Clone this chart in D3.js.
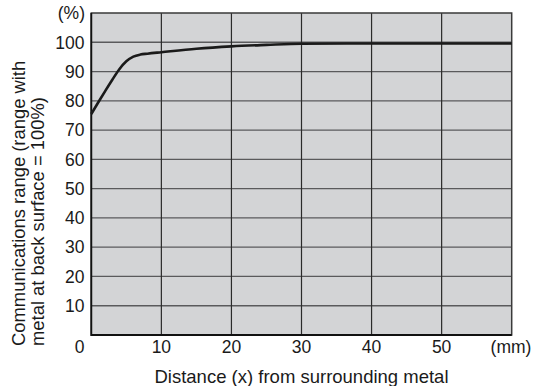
<!DOCTYPE html>
<html>
<head>
<meta charset="utf-8">
<script src="https://cdn.jsdelivr.net/npm/d3@7"></script>
<style>
  body { margin: 0; background: #fff; }
  text { font-family: "Liberation Sans", Arial, sans-serif; fill: #1a1a1a; }
</style>
</head>
<body>
<script>
// distance (mm) vs communications range (%)
var distance = [0, 1, 2, 3, 4, 5, 6, 7, 8, 10, 15, 20, 25, 30, 40, 50, 60];
var range    = [75.5, 79.5, 83.4, 87.2, 90.8, 93.5, 95.1, 95.8, 96.1, 96.6, 97.8, 98.6, 99.1, 99.5, 99.6, 99.6, 99.6];
var xTicks = [0, 10, 20, 30, 40, 50];
var yTicks = [10, 20, 30, 40, 50, 60, 70, 80, 90, 100];

var width = 535, height = 386;
var plotLeft = 91.3, plotRight = 511.7, plotTop = 13, plotBottom = 335;

var svg = d3.select("body").append("svg")
    .attr("width", width)
    .attr("height", height);

var x = d3.scaleLinear().domain([0, 60]).range([plotLeft, plotRight]);
var y = d3.scaleLinear().domain([0, 110]).range([plotBottom, plotTop]);

// plot background
svg.append("rect")
  .attr("x", plotLeft).attr("y", plotTop)
  .attr("width", plotRight - plotLeft).attr("height", plotBottom - plotTop)
  .attr("fill", "#d3d4d6");

// horizontal grid
svg.selectAll(".hgrid")
  .data(yTicks)
  .enter().append("line")
  .attr("class", "hgrid")
  .attr("x1", plotLeft).attr("x2", plotRight)
  .attr("y1", function(d) { return y(d); })
  .attr("y2", function(d) { return y(d); })
  .attr("stroke", "#5a5a5c")
  .attr("stroke-width", 1.3);

// vertical grid
svg.selectAll(".vgrid")
  .data(xTicks.slice(1))
  .enter().append("line")
  .attr("class", "vgrid")
  .attr("x1", function(d) { return x(d); })
  .attr("x2", function(d) { return x(d); })
  .attr("y1", plotTop).attr("y2", plotBottom)
  .attr("stroke", "#2a2a2a")
  .attr("stroke-width", 1.2);

// frame
svg.append("rect")
  .attr("x", plotLeft).attr("y", plotTop)
  .attr("width", plotRight - plotLeft).attr("height", plotBottom - plotTop)
  .attr("fill", "none")
  .attr("stroke", "#3a3a3a")
  .attr("stroke-width", 1.5);
svg.append("path")
  .attr("d", "M" + plotLeft + "," + plotTop + "V" + plotBottom + "H" + plotRight)
  .attr("fill", "none")
  .attr("stroke", "#111")
  .attr("stroke-width", 1.8);

// curve
var line = d3.line()
  .x(function(d) { return x(d[0]); })
  .y(function(d) { return y(d[1]); })
  .curve(d3.curveMonotoneX);

svg.append("path")
  .datum(d3.zip(distance, range))
  .attr("d", line)
  .attr("fill", "none")
  .attr("stroke", "#1a1a1a")
  .attr("stroke-width", 2.6)
  .attr("stroke-linejoin", "round");

// y tick labels
svg.selectAll(".ylab")
  .data([0].concat(yTicks))
  .enter().append("text")
  .attr("class", "ylab")
  .attr("x", 84.5)
  .attr("y", function(d) { return d === 0 ? 353 : y(d) + 6.3; })
  .attr("text-anchor", "end")
  .attr("font-size", 17.5)
  .text(function(d) { return d; });

// x tick labels (0 shares the y label)
svg.selectAll(".xlab")
  .data(xTicks.slice(1))
  .enter().append("text")
  .attr("class", "xlab")
  .attr("x", function(d) { return x(d); })
  .attr("y", 353)
  .attr("text-anchor", "middle")
  .attr("font-size", 17.5)
  .text(function(d) { return d; });

// units
svg.append("text")
  .attr("x", 85).attr("y", 19)
  .attr("text-anchor", "end")
  .attr("font-size", 17.5)
  .text("(%)");
svg.append("text")
  .attr("x", 511).attr("y", 353)
  .attr("text-anchor", "middle")
  .attr("font-size", 17.5)
  .text("(mm)");

// axis titles
svg.append("text")
  .attr("x", (plotLeft + plotRight) / 2).attr("y", 382.5)
  .attr("text-anchor", "middle")
  .attr("font-size", 18.5)
  .text("Distance (x) from surrounding metal");

var yTitle = svg.append("text")
  .attr("transform", "translate(25,346) rotate(-90)")
  .attr("text-anchor", "start")
  .attr("font-size", 18.4);
yTitle.append("tspan").attr("x", 0).attr("dy", 0).text("Communications range (range with");
yTitle.append("tspan").attr("x", 0).attr("dy", 19).text("metal at back surface = 100%)");
</script>
</body>
</html>
